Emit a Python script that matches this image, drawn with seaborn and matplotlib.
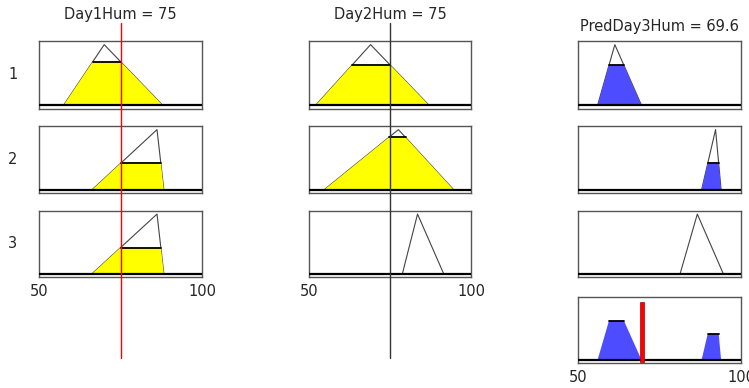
import numpy as np
import pandas as pd
import matplotlib
matplotlib.use("Agg")
import matplotlib.pyplot as plt
from matplotlib.lines import Line2D
import seaborn as sns

sns.set_theme(style="white")
plt.rcParams['font.family'] = ['DejaVu Sans']

in_names = ["Day1Hum", "Day2Hum"]
in_values = [75, 75]
out_name = "PredDay3Hum"
out_value = 69.6
rule_labels = ["1", "2", "3"]

# triangle membership functions [left, peak, right]
day1_mfs = [[57.5, 70.0, 88.0], [66.2, 86.2, 88.3], [66.2, 86.2, 88.3]]
day2_mfs = [[52.0, 69.0, 87.1], [54.6, 77.6, 94.7], [78.8, 83.5, 91.6]]
out_mfs = [[56.0, 61.3, 69.5], [87.9, 92.2, 93.9], [81.3, 86.6, 94.6]]

# membership degree at the current input, and rule firing strength
day1_degree = [0.72, 0.44, 0.44]
day2_degree = [0.66, 0.87, 0.0]
rule_strength = [0.66, 0.44, 0.0]

W, H = 749, 388
fig = plt.figure(figsize=(W / 100, H / 100), dpi=100)

col_x = [(39, 202), (309, 471), (578, 741)]
row_y = [(41, 108.5), (126, 193), (210.5, 277), (297, 363)]


def make_ax(c, r):
    x0, x1 = col_x[c]
    y0, y1 = row_y[r]
    ax = fig.add_axes([x0 / W, 1 - y1 / H, (x1 - x0) / W, (y1 - y0) / H])
    ax.set_xlim(50, 100)
    ax.set_ylim(-0.05, 1.06)
    ax.set_xticks([])
    ax.set_yticks([])
    for s in ax.spines.values():
        s.set_color("#555555")
        s.set_linewidth(1.0)
    ax.axhline(0, color="black", lw=1.6, zorder=5)
    return ax


def clipped(mf, h):
    a, b, c = mf
    return [a, a + h * (b - a), c - h * (c - b), c], [0, h, h, 0]


def draw_mf(ax, mf, h, fill):
    a, b, c = mf
    tri = pd.DataFrame({"x": [a, b, c], "y": [0, 1, 0]})
    sns.lineplot(data=tri, x="x", y="y", ax=ax, color="#444444", lw=0.8,
                 sort=False, estimator=None)
    if h > 0:
        xs, ys = clipped(mf, h)
        ax.fill(xs, ys, color=fill, lw=0, zorder=2)
        ax.plot(xs[1:3], ys[1:3], color="black", lw=1.3, zorder=3)
    ax.set_xlabel("")
    ax.set_ylabel("")


axes = {}
for r in range(3):
    axes[(0, r)] = make_ax(0, r)
    draw_mf(axes[(0, r)], day1_mfs[r], day1_degree[r], "#ffff00")
    axes[(0, r)].text(-0.16, 0.5, rule_labels[r], transform=axes[(0, r)].transAxes,
                      ha="center", va="center", fontsize=10.5)
    axes[(1, r)] = make_ax(1, r)
    draw_mf(axes[(1, r)], day2_mfs[r], day2_degree[r], "#ffff00")
    axes[(2, r)] = make_ax(2, r)
    draw_mf(axes[(2, r)], out_mfs[r], rule_strength[r], "#4d4dff")

# aggregated output
agg = make_ax(2, 3)
axes[(2, 3)] = agg
for mf, h in zip(out_mfs, rule_strength):
    if h > 0:
        xs, ys = clipped(mf, h)
        agg.fill(xs, ys, color="#4d4dff", lw=0, zorder=2)
        agg.plot(xs[1:3], ys[1:3], color="black", lw=1.3, zorder=3)
agg.bar([out_value], [1.0], width=1.2, bottom=-0.03, color="#ff0000",
        edgecolor="#aa0000", lw=0.5, zorder=6)

for ax in [axes[(0, 2)], axes[(1, 2)], agg]:
    ax.set_xticks([50, 100])
    ax.set_xticklabels(["50", "100"], fontsize=10.5)
    ax.tick_params(axis="x", length=0, pad=5)

# input value lines across all rows
for c, color in zip([0, 1], ["#ff0000", "#333333"]):
    xf = fig.transFigure.inverted().transform(
        axes[(c, 0)].transData.transform((in_values[c], 0)))[0]
    fig.add_artist(Line2D([xf, xf], [1 - 23 / H, 1 - 358 / H],
                          transform=fig.transFigure, color=color, lw=1.0))

fig.text(120.5 / W, 1 - 15 / H, f"{in_names[0]} = {in_values[0]}",
         ha="center", va="center", fontsize=10.5)
fig.text(390 / W, 1 - 15 / H, f"{in_names[1]} = {in_values[1]}",
         ha="center", va="center", fontsize=10.5)
fig.text(659.5 / W, 1 - 26 / H, f"{out_name} = {out_value}",
         ha="center", va="center", fontsize=10.5)

fig.savefig("out.png", dpi=100, facecolor="white")
